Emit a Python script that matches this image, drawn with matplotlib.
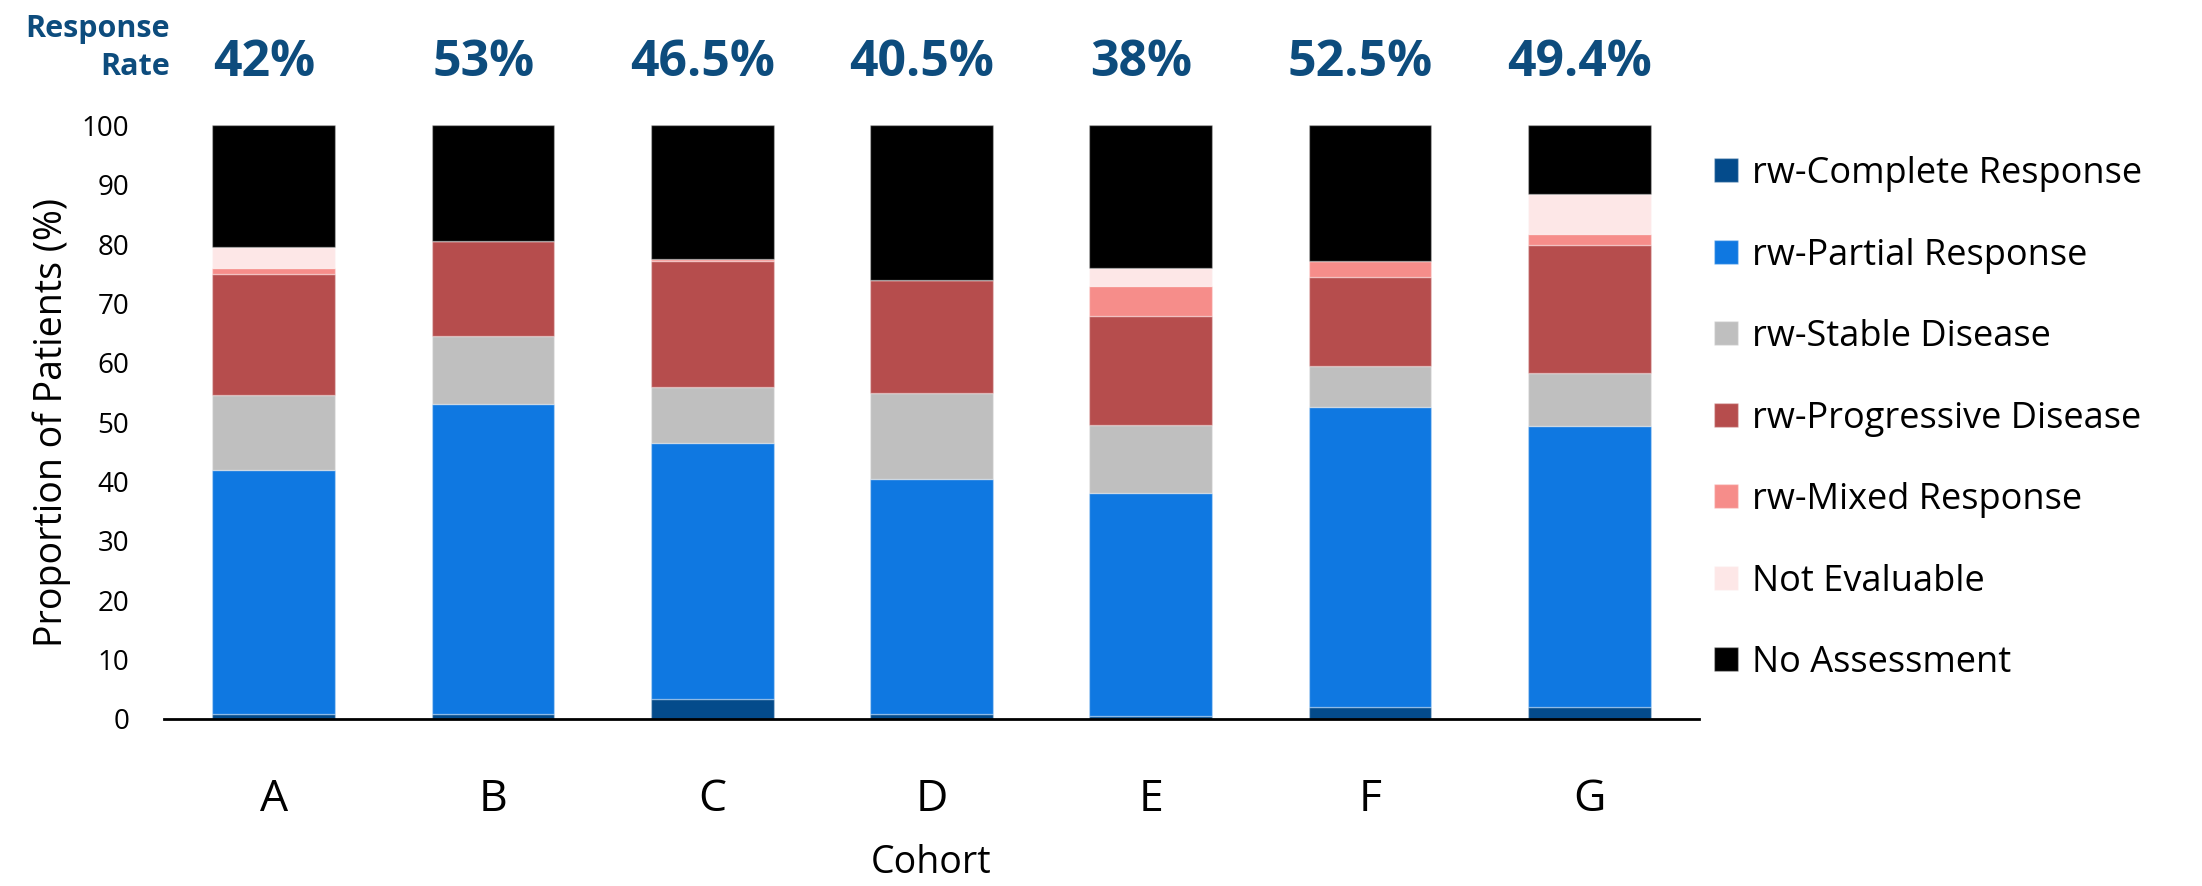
import numpy as np
import matplotlib.pyplot as plt
from matplotlib.transforms import blended_transform_factory

plt.rcParams['font.family'] = ['Open Sans', 'DejaVu Sans']

cohorts = ['A', 'B', 'C', 'D', 'E', 'F', 'G']
response_rate = ['42%', '53%', '46.5%', '40.5%', '38%', '52.5%', '49.4%']

complete = [0.9, 0.9, 3.4, 0.9, 0.5, 2.0, 2.1]
partial = [41.1, 52.1, 43.1, 39.6, 37.5, 50.5, 47.3]
stable = [12.5, 11.5, 9.5, 14.4, 11.5, 7.0, 8.9]
progressive = [20.5, 16.0, 21.1, 19.1, 18.4, 15.0, 21.6]
mixed = [1.0, 0.0, 0.4, 0.0, 5.1, 2.6, 1.8]
not_evaluable = [3.5, 0.0, 0.0, 0.0, 2.9, 0.0, 6.7]
no_assessment = [20.5, 19.5, 22.5, 26.0, 24.1, 22.9, 11.6]

series = [
    ('rw-Complete Response', complete, '#044b8b'),
    ('rw-Partial Response', partial, '#0f78e1'),
    ('rw-Stable Disease', stable, '#bfbfbf'),
    ('rw-Progressive Disease', progressive, '#b64d4d'),
    ('rw-Mixed Response', mixed, '#f68d8a'),
    ('Not Evaluable', not_evaluable, '#fde7e7'),
    ('No Assessment', no_assessment, '#000000'),
]

fig = plt.figure(figsize=(22.02, 8.86), dpi=100)
ax = fig.add_axes([0.0745, 0.1885, 0.697, 0.670])

x = np.arange(len(cohorts))
bottom = np.zeros(len(cohorts))
for name, vals, col in series:
    vals = np.array(vals)
    ax.bar(x, vals, 0.56, bottom=bottom, color=col, label=name,
           edgecolor='#ffffff50', linewidth=1.0)
    bottom += vals

ax.set_xlim(-0.5, 6.5)
ax.set_ylim(0, 100)
ax.set_yticks(range(0, 101, 10))
ax.set_xticks(x)
ax.set_xticklabels(cohorts)
ax.tick_params(axis='y', length=0, pad=25, labelsize=20)
ax.tick_params(axis='x', length=0, pad=42, labelsize=32)
for s in ['top', 'right', 'left']:
    ax.spines[s].set_visible(False)
ax.spines['bottom'].set_linewidth(2)
ax.spines['bottom'].set_color('black')

ax.set_ylabel('Proportion of Patients (%)', fontsize=27, labelpad=8)
ax.set_xlabel('Cohort', fontsize=27, labelpad=16)

# response rate header above each bar
blue = '#0d4c7d'
tr = blended_transform_factory(ax.transData, fig.transFigure)
for xi, r in zip(x, response_rate):
    ax.text(xi - 0.045, 0.914, r, transform=tr, ha='center', va='baseline',
            fontsize=36, fontweight='bold', color=blue)
fig.text(0.0772, 0.958, 'Response', ha='right', va='baseline',
         fontsize=22, fontweight='bold', color=blue)
fig.text(0.0772, 0.915, 'Rate', ha='right', va='baseline',
         fontsize=22, fontweight='bold', color=blue)

fig.legend(loc='upper left', bbox_to_anchor=(0.7784, 0.8239), frameon=False,
           fontsize=26, handlelength=0.65, handleheight=0.65, handletextpad=0.4,
           labelspacing=1.26, borderpad=0, borderaxespad=0)

fig.savefig('out.png', dpi=100)
